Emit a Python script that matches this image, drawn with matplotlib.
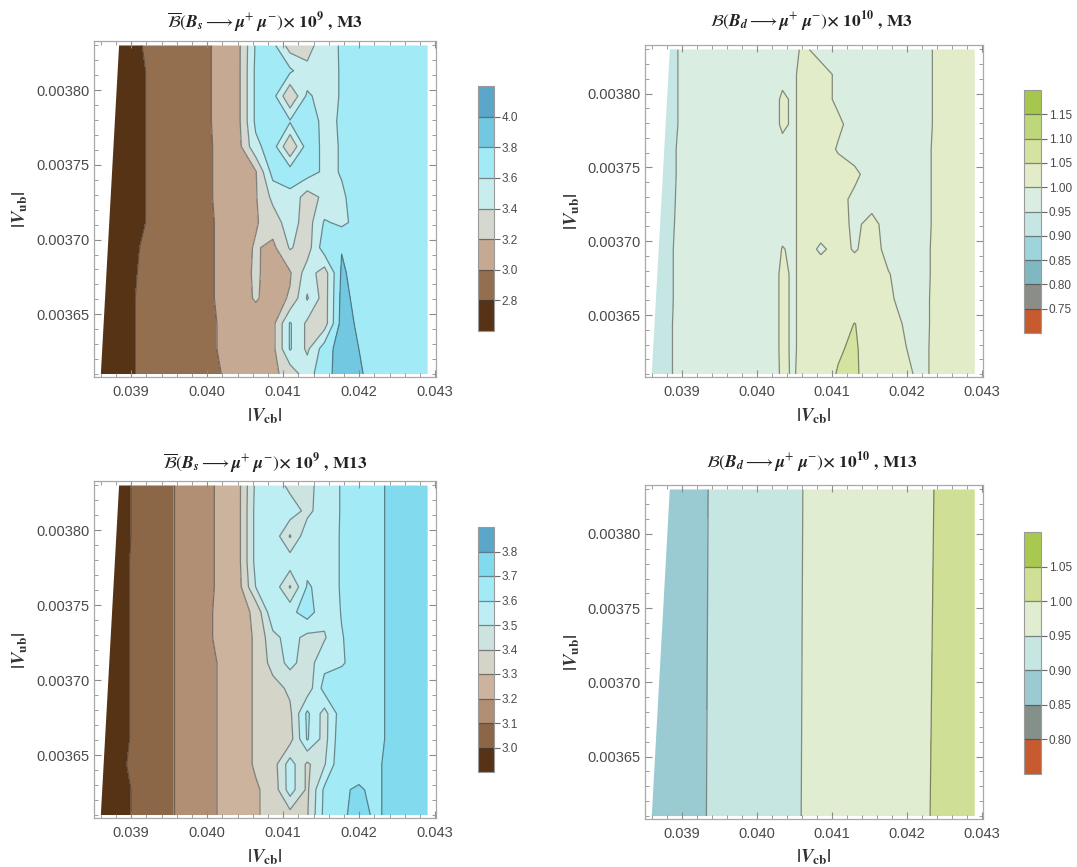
import numpy as np
import matplotlib
matplotlib.use('Agg')
import matplotlib.pyplot as plt
from matplotlib.patches import Polygon
from matplotlib.ticker import MultipleLocator, FuncFormatter

plt.rcParams['font.family'] = ['Liberation Sans', 'DejaVu Sans']
plt.rcParams['mathtext.fontset'] = 'stix'

# ---------------- data ----------------
vcb_min, vcb_max = 0.0386, 0.0429
vub_min, vub_max = 0.00361, 0.00383
vcb_left_top = 0.03884          # left edge of the sampled domain at the top

# Bs grids (rows listed from top |Vub| to bottom |Vub|)
vcb_bs = np.linspace(vcb_min, vcb_max, 20)
vub_bs = np.linspace(vub_max, vub_min, 14)

bs_m3 = [
    [2.69, 2.73, 2.78, 2.83, 2.88, 2.92, 2.97, 3.04, 3.15, 3.62, 3.66, 3.30, 3.32, 3.52, 3.62, 3.66, 3.68, 3.70, 3.72, 3.74],
    [2.68, 2.72, 2.77, 2.82, 2.87, 2.92, 2.97, 3.04, 3.15, 3.64, 3.70, 3.64, 3.45, 3.50, 3.62, 3.66, 3.68, 3.70, 3.72, 3.74],
    [2.67, 2.72, 2.77, 2.82, 2.87, 2.92, 2.97, 3.04, 3.15, 3.64, 3.68, 3.20, 3.64, 3.50, 3.62, 3.66, 3.68, 3.70, 3.72, 3.74],
    [2.67, 2.72, 2.77, 2.82, 2.87, 2.92, 2.97, 3.04, 3.15, 3.64, 3.70, 3.62, 3.70, 3.55, 3.62, 3.66, 3.68, 3.70, 3.72, 3.74],
    [2.67, 2.72, 2.77, 2.82, 2.87, 2.92, 2.97, 3.03, 3.13, 3.55, 3.70, 3.20, 3.70, 3.56, 3.61, 3.66, 3.68, 3.70, 3.72, 3.74],
    [2.67, 2.72, 2.77, 2.82, 2.87, 2.92, 2.97, 3.03, 3.10, 3.18, 3.68, 3.70, 3.70, 3.56, 3.61, 3.66, 3.68, 3.70, 3.72, 3.74],
    [2.67, 2.72, 2.77, 2.82, 2.87, 2.92, 2.97, 3.03, 3.10, 3.18, 3.45, 3.55, 3.30, 3.45, 3.58, 3.66, 3.68, 3.70, 3.72, 3.74],
    [2.67, 2.72, 2.77, 2.82, 2.87, 2.92, 2.97, 3.02, 3.10, 3.18, 3.30, 3.50, 3.30, 3.62, 3.56, 3.66, 3.68, 3.70, 3.72, 3.74],
    [2.70, 2.74, 2.79, 2.83, 2.88, 2.92, 2.97, 3.02, 3.11, 3.22, 3.15, 3.42, 3.30, 3.72, 3.79, 3.70, 3.68, 3.70, 3.72, 3.74],
    [2.71, 2.75, 2.795, 2.84, 2.88, 2.92, 2.97, 3.02, 3.11, 3.23, 3.12, 3.18, 3.50, 3.30, 3.83, 3.72, 3.68, 3.70, 3.72, 3.74],
    [2.72, 2.76, 2.80, 2.84, 2.89, 2.93, 2.97, 3.02, 3.11, 3.22, 3.12, 3.22, 3.62, 3.30, 3.86, 3.74, 3.69, 3.70, 3.72, 3.74],
    [2.72, 2.76, 2.80, 2.84, 2.89, 2.93, 2.97, 3.01, 3.05, 3.10, 3.14, 3.62, 3.36, 3.30, 3.88, 3.77, 3.70, 3.71, 3.72, 3.74],
    [2.72, 2.76, 2.80, 2.84, 2.89, 2.93, 2.97, 3.01, 3.05, 3.09, 3.14, 3.62, 3.36, 3.70, 3.90, 3.80, 3.72, 3.72, 3.73, 3.74],
    [2.72, 2.76, 2.80, 2.84, 2.88, 2.92, 2.96, 3.00, 3.06, 3.11, 3.16, 3.27, 3.52, 3.72, 3.90, 3.82, 3.74, 3.73, 3.74, 3.75],
]

bs_m13 = [
    [2.93, 2.97, 3.01, 3.05, 3.09, 3.13, 3.17, 3.22, 3.27, 3.52, 3.57, 3.47, 3.46, 3.56, 3.605, 3.64, 3.68, 3.72, 3.74, 3.76],
    [2.93, 2.97, 3.01, 3.05, 3.09, 3.13, 3.17, 3.22, 3.27, 3.53, 3.57, 3.56, 3.47, 3.56, 3.605, 3.64, 3.68, 3.72, 3.74, 3.76],
    [2.93, 2.97, 3.01, 3.05, 3.09, 3.13, 3.17, 3.22, 3.27, 3.53, 3.57, 3.39, 3.57, 3.57, 3.605, 3.64, 3.68, 3.72, 3.74, 3.76],
    [2.94, 2.98, 3.01, 3.05, 3.09, 3.13, 3.17, 3.22, 3.27, 3.53, 3.57, 3.56, 3.57, 3.57, 3.605, 3.64, 3.68, 3.72, 3.74, 3.76],
    [2.94, 2.98, 3.01, 3.05, 3.09, 3.13, 3.17, 3.22, 3.26, 3.50, 3.57, 3.39, 3.61, 3.57, 3.605, 3.64, 3.68, 3.72, 3.74, 3.76],
    [2.94, 2.98, 3.01, 3.05, 3.09, 3.13, 3.18, 3.22, 3.26, 3.32, 3.58, 3.57, 3.65, 3.53, 3.605, 3.64, 3.68, 3.72, 3.74, 3.76],
    [2.94, 2.98, 3.01, 3.05, 3.09, 3.13, 3.18, 3.22, 3.26, 3.31, 3.47, 3.54, 3.47, 3.49, 3.595, 3.64, 3.68, 3.72, 3.74, 3.76],
    [2.94, 2.98, 3.01, 3.05, 3.09, 3.13, 3.17, 3.21, 3.26, 3.31, 3.44, 3.53, 3.45, 3.57, 3.59, 3.64, 3.68, 3.72, 3.74, 3.76],
    [2.94, 2.98, 3.01, 3.05, 3.09, 3.13, 3.17, 3.21, 3.26, 3.31, 3.36, 3.42, 3.44, 3.64, 3.66, 3.66, 3.68, 3.72, 3.74, 3.76],
    [2.94, 2.98, 3.01, 3.05, 3.09, 3.13, 3.17, 3.21, 3.26, 3.31, 3.36, 3.38, 3.62, 3.46, 3.66, 3.66, 3.68, 3.72, 3.74, 3.76],
    [2.94, 2.98, 3.01, 3.05, 3.09, 3.13, 3.17, 3.21, 3.26, 3.31, 3.35, 3.36, 3.61, 3.46, 3.68, 3.67, 3.68, 3.72, 3.74, 3.76],
    [2.94, 2.98, 3.02, 3.05, 3.09, 3.13, 3.17, 3.21, 3.26, 3.31, 3.35, 3.55, 3.38, 3.49, 3.69, 3.68, 3.69, 3.72, 3.74, 3.76],
    [2.93, 2.97, 3.01, 3.05, 3.09, 3.13, 3.17, 3.21, 3.25, 3.29, 3.33, 3.55, 3.38, 3.62, 3.695, 3.705, 3.69, 3.72, 3.74, 3.76],
    [2.93, 2.97, 3.01, 3.05, 3.09, 3.13, 3.17, 3.21, 3.25, 3.29, 3.33, 3.36, 3.39, 3.63, 3.69, 3.72, 3.69, 3.72, 3.74, 3.76],
]

# Bd M3 grid (non-uniform |Vcb| sampling)
vcb_bd3 = [0.0386, 0.03881, 0.03904, 0.03926, 0.03949, 0.03972, 0.03994, 0.04017, 0.04034, 0.04048,
           0.04062, 0.04085, 0.04108, 0.04130, 0.04153, 0.04175, 0.04198, 0.04221, 0.04243, 0.04266, 0.0429]
vub_bd3 = np.linspace(vub_max, vub_min, 14)
bd_m3 = [
    [0.944, 0.947, 0.952, 0.959, 0.966, 0.973, 0.980, 0.987, 0.992, 0.997, 1.002, 0.996, 0.996, 0.996, 0.996, 0.996, 0.996, 0.996, 1.003, 1.010, 1.017],
    [0.944, 0.947, 0.952, 0.959, 0.966, 0.973, 0.980, 0.987, 0.993, 0.997, 1.006, 1.004, 0.998, 0.996, 0.996, 0.996, 0.996, 0.996, 1.003, 1.010, 1.017],
    [0.944, 0.947, 0.952, 0.959, 0.966, 0.973, 0.980, 0.987, 1.004, 0.997, 1.006, 1.004, 0.998, 0.996, 0.996, 0.996, 0.996, 0.996, 1.003, 1.010, 1.017],
    [0.944, 0.947, 0.952, 0.959, 0.966, 0.973, 0.980, 0.987, 1.004, 0.997, 1.006, 1.006, 1.002, 0.996, 0.996, 0.996, 0.996, 0.996, 1.003, 1.010, 1.017],
    [0.944, 0.9475, 0.9525, 0.959, 0.966, 0.973, 0.980, 0.987, 0.993, 0.997, 1.006, 1.006, 0.999, 0.996, 0.996, 0.996, 0.996, 0.996, 1.004, 1.011, 1.017],
    [0.944, 0.9475, 0.9525, 0.959, 0.966, 0.973, 0.980, 0.987, 0.993, 0.997, 1.006, 1.007, 1.005, 1.002, 0.996, 0.996, 0.996, 0.996, 1.004, 1.011, 1.017],
    [0.944, 0.9475, 0.953, 0.959, 0.966, 0.973, 0.980, 0.987, 0.993, 0.997, 1.006, 1.007, 1.003, 0.998, 0.996, 0.996, 0.996, 0.996, 1.004, 1.011, 1.017],
    [0.944, 0.948, 0.953, 0.959, 0.966, 0.973, 0.980, 0.987, 0.993, 0.997, 1.006, 1.006, 1.004, 0.998, 1.003, 0.996, 0.996, 0.996, 1.004, 1.011, 1.018],
    [0.944, 0.948, 0.954, 0.959, 0.966, 0.973, 0.980, 0.987, 1.001, 0.997, 1.006, 0.998, 1.004, 0.999, 1.004, 0.997, 0.996, 0.996, 1.005, 1.012, 1.018],
    [0.944, 0.948, 0.954, 0.960, 0.967, 0.974, 0.981, 0.987, 1.005, 0.997, 1.006, 1.007, 1.007, 1.006, 1.005, 1.0005, 0.996, 0.996, 1.005, 1.012, 1.018],
    [0.944, 0.948, 0.954, 0.960, 0.967, 0.974, 0.981, 0.987, 1.005, 0.997, 1.006, 1.008, 1.009, 1.008, 1.006, 1.002, 0.996, 0.996, 1.006, 1.013, 1.018],
    [0.944, 0.948, 0.955, 0.960, 0.967, 0.974, 0.981, 0.987, 1.005, 0.997, 1.006, 1.010, 1.020, 1.052, 1.020, 1.004, 0.999, 0.996, 1.006, 1.013, 1.018],
    [0.944, 0.948, 0.955, 0.960, 0.967, 0.974, 0.981, 0.987, 1.005, 0.997, 1.006, 1.015, 1.045, 1.058, 1.020, 1.006, 1.0003, 0.996, 1.007, 1.013, 1.018],
    [0.944, 0.948, 0.955, 0.960, 0.967, 0.974, 0.981, 0.987, 1.004, 0.998, 1.006, 1.030, 1.053, 1.055, 1.035, 1.010, 1.003, 0.996, 1.007, 1.013, 1.018],
]

# Bd M13 grid
vcb_bd13 = np.linspace(vcb_min, vcb_max, 8)
vub_bd13 = [vub_max, vub_min]
bd_m13 = [
    [0.873, 0.8946, 0.9189, 0.9432, 0.968, 0.9803, 0.998, 1.0154],
    [0.874, 0.8955, 0.9198, 0.9441, 0.9688, 0.9815, 0.9994, 1.018],
]

# contour levels and colours
lev_bs3 = [2.6, 2.8, 3.0, 3.2, 3.4, 3.6, 3.8, 4.0, 4.2]
col_bs3 = ['#573316', '#946F4F', '#C5A992', '#D5D8CF', '#C8EDEE', '#A2EAF6', '#72C8E0', '#5BA7C9']
tick_bs3 = [2.8, 3.0, 3.2, 3.4, 3.6, 3.8, 4.0]

lev_bs13 = [2.9, 3.0, 3.1, 3.2, 3.3, 3.4, 3.5, 3.6, 3.7, 3.8, 3.9]
col_bs13 = ['#573316', '#8B6748', '#B08F74', '#CBB39E', '#D5D4C8', '#CCE3E0', '#BDEEF3', '#A2EAF6', '#82DAEE', '#5BA7C9']
tick_bs13 = [3.0, 3.1, 3.2, 3.3, 3.4, 3.5, 3.6, 3.7, 3.8]

lev_bd3 = [0.70, 0.75, 0.80, 0.85, 0.90, 0.95, 1.00, 1.05, 1.10, 1.15, 1.20]
col_bd3 = ['#C85A30', '#8A8E86', '#80B8C2', '#9ED4DC', '#C6E6E4', '#D9EDE0', '#E2ECC8', '#D5E3A0', '#BDD77A', '#A5C74E']
tick_bd3 = [0.75, 0.80, 0.85, 0.90, 0.95, 1.00, 1.05, 1.10, 1.15]

lev_bd13 = [0.75, 0.80, 0.85, 0.90, 0.95, 1.00, 1.05, 1.10]
col_bd13 = ['#C85A30', '#849089', '#9ACBD3', '#C6E6E2', '#E0EDD0', '#CFDF95', '#A8C850']
tick_bd13 = [0.80, 0.85, 0.90, 0.95, 1.00, 1.05]

# ---------------- text ----------------
def mt_ok(s):
    try:
        f = plt.figure(figsize=(2, 1))
        f.text(0.1, 0.3, s)
        f.canvas.draw()
        plt.close(f)
        return True
    except Exception:
        plt.close('all')
        return False

BI = r'\mathbfit' if mt_ok(r'$\mathbfit{B}_{\mathbfit{s}}\mathbfit{\mu}$') else r'\mathit'

def title_str(sub, bar, exp, model):
    head = r'\overline{\mathcal{B}}' if bar else r'\mathcal{B}'
    return (r'$' + head + r'(' + BI + '{B}_{' + BI + '{' + sub + r'}}\longrightarrow ' + BI + r'{\mu}^{+}\ '
            + BI + r'{\mu}^{-})\mathbf{\times\ 10^{' + exp + r'}}$ , ' + model)

xlabel_str = r'$\mathbf{|}' + BI + r'{V}_{\mathbf{cb}}\mathbf{|}$'
ylabel_str = r'$\mathbf{|}' + BI + r'{V}_{\mathbf{ub}}\mathbf{|}$'

# ---------------- figure ----------------
W, H = 1077, 867
fig = plt.figure(figsize=(W / 100, H / 100), dpi=100)

def rect(l, t, r, b):
    return [l / W, 1 - b / H, (r - l) / W, (b - t) / H]

line_col = (0.22, 0.22, 0.22, 0.55)

def panel(ax_px, cb_px, x, y, z, levels, colors, cticks, cfmt, title, title_xy, xl_xy, yl_xy):
    ax = fig.add_axes(rect(*ax_px))
    x = np.asarray(x, float)
    y = np.asarray(y, float)[::-1]
    Z = np.asarray(z, float)[::-1]
    X, Y = np.meshgrid(x, y)
    cf = ax.contourf(X, Y, Z, levels=levels, colors=colors)
    cl = ax.contour(X, Y, Z, levels=levels, colors=[line_col], linewidths=0.9)
    clip = Polygon([(vcb_min, vub_min), (vcb_left_top, vub_max), (vcb_max, vub_max), (vcb_max, vub_min)],
                   closed=True, facecolor='none', edgecolor='none', transform=ax.transData)
    ax.add_patch(clip)
    cf.set_clip_path(clip)
    cl.set_clip_path(clip)

    ax.set_xlim(0.03851, 0.04301)
    ax.set_ylim(0.003608, 0.003833)
    ax.xaxis.set_major_locator(MultipleLocator(0.001))
    ax.xaxis.set_minor_locator(MultipleLocator(0.0002))
    ax.yaxis.set_major_locator(MultipleLocator(0.00005))
    ax.yaxis.set_minor_locator(MultipleLocator(0.00001))
    ax.xaxis.set_major_formatter(FuncFormatter(lambda v, p: f'{v:.3f}'))
    ax.yaxis.set_major_formatter(FuncFormatter(lambda v, p: f'{v:.5f}'))
    ax.tick_params(which='both', direction='in', top=True, right=True, color='#8c8c8c',
                   labelcolor='#4a4a4a', labelsize=10.5)
    ax.tick_params(which='major', length=5, width=0.8)
    ax.tick_params(which='minor', length=2.6, width=0.6)
    ax.tick_params(axis='x', pad=6)
    ax.tick_params(axis='y', pad=3)
    for s in ax.spines.values():
        s.set_color('#a8a8a8')
        s.set_linewidth(0.9)

    cax = fig.add_axes(rect(*cb_px))
    cb = fig.colorbar(cf, cax=cax, ticks=cticks, drawedges=True)
    cb.outline.set_edgecolor('#9a9a9a')
    cb.outline.set_linewidth(0.8)
    cb.dividers.set_color((0.25, 0.25, 0.25, 0.6))
    cb.dividers.set_linewidth(0.9)
    cax.yaxis.set_major_formatter(FuncFormatter(lambda v, p: cfmt.format(v)))
    cax.tick_params(direction='out', length=4, width=0.8, color='#6a6a6a', labelcolor='#4a4a4a',
                    labelsize=8.5, pad=1.5)
    cax.minorticks_off()

    fig.text(title_xy[0] / W, 1 - title_xy[1] / H, title, ha='center', va='center',
             fontsize=12.5, family='STIXGeneral', weight='bold', color='#222222')
    fig.text(xl_xy[0] / W, 1 - xl_xy[1] / H, xlabel_str, ha='center', va='center',
             fontsize=13.5, color='#333333')
    fig.text(yl_xy[0] / W, 1 - yl_xy[1] / H, ylabel_str, ha='center', va='center',
             fontsize=13.5, color='#333333', rotation=90)
    return ax

panel((94, 41, 436, 377), (478, 86, 494, 331), vcb_bs, vub_bs, bs_m3, lev_bs3, col_bs3, tick_bs3, '{:.1f}',
      title_str('s', True, '9', 'M3'), (265, 22), (265, 416), (20, 209))
panel((645, 45, 983, 377), (1024, 90, 1041, 333), vcb_bd3, vub_bd3, bd_m3, lev_bd3, col_bd3, tick_bd3, '{:.2f}',
      title_str('d', False, '10', 'M3'), (812, 22), (814, 416), (572, 211))
panel((94, 481, 436, 818), (478, 527, 494, 772), vcb_bs, vub_bs, bs_m13, lev_bs13, col_bs13, tick_bs13, '{:.1f}',
      title_str('s', True, '9', 'M13'), (265, 463), (265, 857), (20, 650))
panel((645, 485, 983, 819), (1024, 532, 1041, 774), vcb_bd13, vub_bd13, bd_m13, lev_bd13, col_bd13, tick_bd13, '{:.2f}',
      title_str('d', False, '10', 'M13'), (812, 463), (814, 857), (572, 652))

fig.savefig('out.png', dpi=100)
